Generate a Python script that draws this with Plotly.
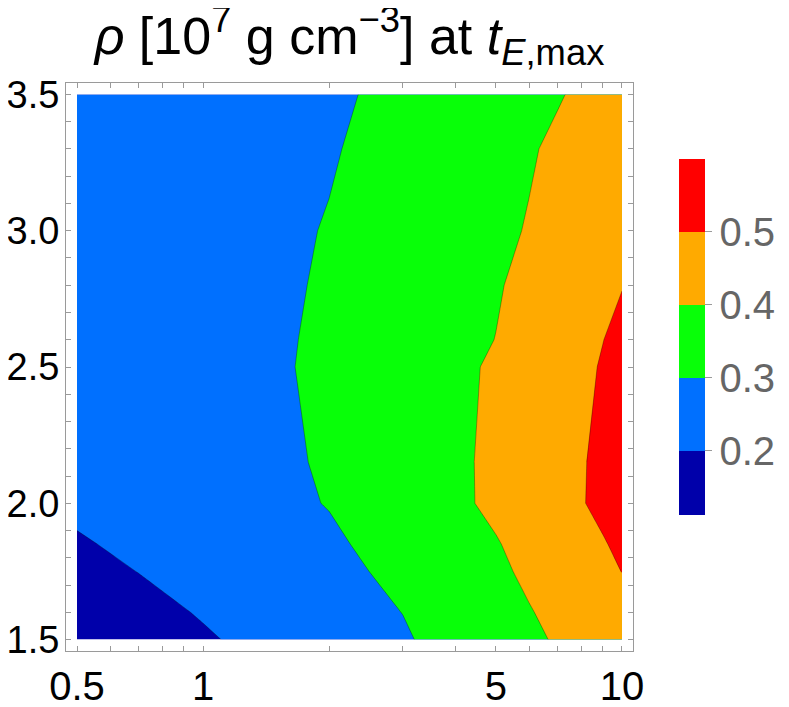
import plotly.graph_objects as go

# grid of the contour data (x is log scaled on the plot)
X_VALUES = [0.5, 0.7, 1, 1.5, 2, 3, 4, 5, 6, 7, 8, 9, 10]
Y_VALUES = [1.5, 1.6, 1.75, 1.85, 2.0, 2.15, 2.5, 2.6, 2.8, 3.0, 3.3, 3.5]

# density rho [1e7 g/cm^3] at t_E,max, one list per y row
RHO_Y150 = [0.115, 0.158, 0.191, 0.228, 0.255, 0.292, 0.329, 0.360, 0.385, 0.407, 0.426, 0.442, 0.457]
RHO_Y160 = [0.146, 0.175, 0.206, 0.240, 0.265, 0.301, 0.340, 0.371, 0.396, 0.417, 0.435, 0.451, 0.466]
RHO_Y175 = [0.176, 0.201, 0.228, 0.258, 0.280, 0.317, 0.356, 0.386, 0.413, 0.439, 0.462, 0.482, 0.501]
RHO_Y185 = [0.192, 0.216, 0.240, 0.268, 0.288, 0.330, 0.367, 0.395, 0.425, 0.452, 0.475, 0.495, 0.514]
RHO_Y200 = [0.216, 0.237, 0.259, 0.284, 0.303, 0.351, 0.385, 0.416, 0.447, 0.473, 0.496, 0.516, 0.534]
RHO_Y215 = [0.225, 0.244, 0.265, 0.288, 0.308, 0.354, 0.386, 0.416, 0.447, 0.472, 0.495, 0.515, 0.533]
RHO_Y250 = [0.230, 0.249, 0.269, 0.292, 0.315, 0.355, 0.384, 0.410, 0.440, 0.465, 0.486, 0.505, 0.522]
RHO_Y260 = [0.228, 0.247, 0.268, 0.291, 0.313, 0.351, 0.379, 0.401, 0.431, 0.457, 0.480, 0.499, 0.517]
RHO_Y280 = [0.226, 0.245, 0.266, 0.289, 0.308, 0.346, 0.373, 0.394, 0.418, 0.442, 0.463, 0.481, 0.498]
RHO_Y300 = [0.225, 0.244, 0.264, 0.286, 0.304, 0.340, 0.366, 0.386, 0.404, 0.424, 0.441, 0.456, 0.470]
RHO_Y330 = [0.220, 0.238, 0.257, 0.279, 0.294, 0.329, 0.356, 0.377, 0.394, 0.411, 0.428, 0.442, 0.455]
RHO_Y350 = [0.215, 0.233, 0.252, 0.273, 0.289, 0.317, 0.344, 0.364, 0.381, 0.395, 0.410, 0.426, 0.440]

X_TICKS = [0.5, 1, 5, 10]
X_MINOR = [0.6, 0.7, 0.8, 0.9, 2, 3, 4, 6, 7, 8, 9]

# contour levels and legend range (legend runs from the data minimum up to 0.6)
LEVELS = [0.2, 0.3, 0.4, 0.5]
LEGEND_MIN = 0.112
LEGEND_MAX = 0.6

# band colours, lowest to highest
BAND_COLORS = ["#0000aa", "#0070ff", "#08ff08", "#ffaa00", "#ff0000"]

FONT = "Liberation Sans, Arial, sans-serif"
FRAME = "#9a9a9a"


def contour_colorscale(colors):
    # plotly maps the band midpoints evenly on 0..1, so use flat steps
    n = len(colors)
    scale = []
    for i, c in enumerate(colors):
        lo = 0 if i == 0 else (i - 0.5) / (n - 1)
        hi = 1 if i == n - 1 else (i + 0.5) / (n - 1)
        scale.append([lo, c])
        scale.append([hi, c])
    return scale


def legend_colorscale(colors, levels, vmin, vmax):
    # step colorscale with the edges at the contour levels
    edges = [0] + [(v - vmin) / (vmax - vmin) for v in levels] + [1]
    scale = []
    for i, c in enumerate(colors):
        scale.append([edges[i], c])
        scale.append([edges[i + 1], c])
    return scale


z = [RHO_Y150, RHO_Y160, RHO_Y175, RHO_Y185, RHO_Y200, RHO_Y215,
     RHO_Y250, RHO_Y260, RHO_Y280, RHO_Y300, RHO_Y330, RHO_Y350]

fig = go.Figure()

fig.add_trace(go.Contour(
    x=X_VALUES,
    y=Y_VALUES,
    z=z,
    autocontour=False,
    contours=dict(start=LEVELS[0], end=LEVELS[-1], size=0.1, coloring="fill", showlines=True),
    colorscale=contour_colorscale(BAND_COLORS),
    line=dict(color="rgba(0,0,0,0.3)", width=1, smoothing=0),
    showscale=False,
    hoverinfo="skip",
))

# legend bar: a hidden marker outside the axis range that only carries the colorbar
fig.add_trace(go.Scatter(
    x=[20],
    y=[5],
    mode="markers",
    marker=dict(
        color=[0.3],
        cmin=LEGEND_MIN,
        cmax=LEGEND_MAX,
        colorscale=legend_colorscale(BAND_COLORS, LEVELS, LEGEND_MIN, LEGEND_MAX),
        showscale=True,
        colorbar=dict(
            tickvals=LEVELS,
            ticktext=[f"{v:.1f}" for v in LEVELS],
            ticks="outside",
            ticklen=7,
            tickcolor=FRAME,
            tickfont=dict(family=FONT, size=40, color="#666666"),
            outlinewidth=0,
            thickness=26,
            thicknessmode="pixels",
            len=356,
            lenmode="pixels",
            x=1.081,
            xanchor="left",
            xpad=0,
            y=0.5528,
            yanchor="middle",
            ypad=0,
        ),
    ),
    showlegend=False,
    hoverinfo="skip",
))

axis_style = dict(
    showline=True,
    linecolor=FRAME,
    linewidth=1,
    mirror="ticks",
    ticks="inside",
    ticklen=5,
    tickcolor=FRAME,
    showgrid=False,
    zeroline=False,
    automargin=False,
)

fig.update_xaxes(
    type="log",
    range=[-0.3273, 1.0263],
    tickvals=X_TICKS,
    ticktext=[str(v) for v in X_TICKS],
    tickfont=dict(family=FONT, size=40, color="black"),
    minor=dict(tickmode="array", tickvals=X_MINOR, ticks="inside", ticklen=5, tickcolor=FRAME),
    **axis_style,
)
fig.update_yaxes(
    range=[1.458, 3.542],
    tick0=1.5,
    dtick=0.5,
    tickformat=".1f",
    tickfont=dict(family=FONT, size=38, color="black"),
    ticklabelstandoff=-2,
    minor=dict(dtick=0.1, ticks="inside", ticklen=5, tickcolor=FRAME),
    **axis_style,
)

# the page body adds an 8px margin, so the figure is sized to the rest of the window
fig.update_layout(
    width=781,
    height=699,
    margin=dict(l=58, r=156, t=75, b=56, autoexpand=False),
    paper_bgcolor="white",
    plot_bgcolor="white",
    showlegend=False,
    font=dict(family=FONT, color="black"),
    title=dict(
        text="<i>ρ</i> [10<sup>7</sup> g cm<sup>−3</sup>] at <i>t</i><sub><i>E</i>,max</sub>",
        font=dict(family=FONT, size=52, color="black"),
        x=0.5,
        xref="paper",
        xanchor="center",
        y=0.96,
        yref="container",
        yanchor="middle",
    ),
)

fig.write_html("out.html")
